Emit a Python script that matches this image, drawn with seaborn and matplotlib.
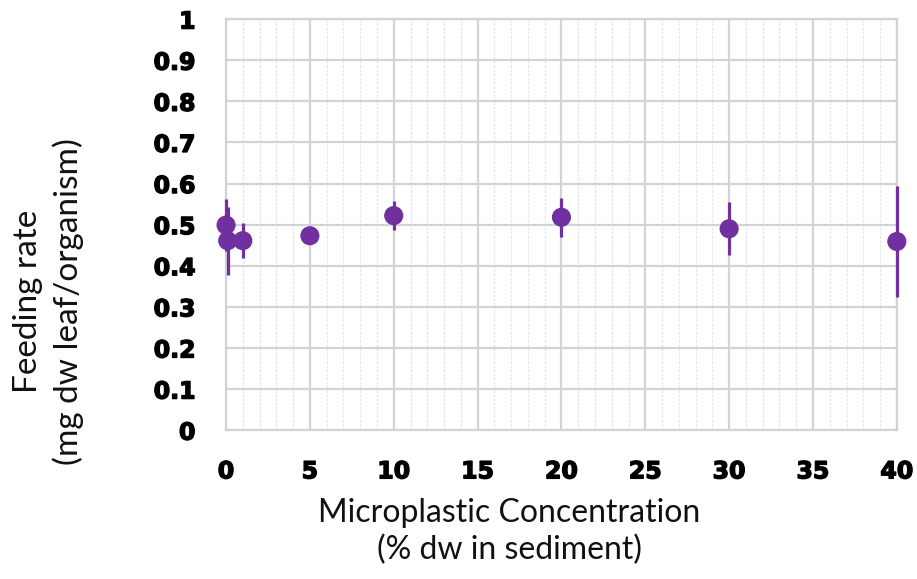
import matplotlib
matplotlib.use("Agg")
import matplotlib.pyplot as plt
import matplotlib.patheffects as pe
import seaborn as sns
import pandas as pd
import numpy as np
from matplotlib.ticker import MultipleLocator, FuncFormatter

concentration = [0, 0.1, 1, 5, 10, 20, 30, 40]
feeding_rate = [0.499, 0.461, 0.461, 0.473, 0.522, 0.518, 0.490, 0.459]
error = [0.064, 0.083, 0.042, 0.008, 0.035, 0.047, 0.064, 0.136]

df = pd.DataFrame({"conc": concentration, "rate": feeding_rate, "err": error})

sns.set_theme(style="white")
plt.rcParams['font.family'] = ['Lato', 'DejaVu Sans']

fig = plt.figure(figsize=(9.17, 5.79), dpi=100)
ax = fig.add_axes([0.2465, 0.257, 0.978 - 0.2465, 0.967 - 0.257])

purple = "#7030A0"
eb = ax.errorbar(df["conc"], df["rate"], yerr=df["err"], fmt="none",
                 ecolor=purple, elinewidth=2.3, capsize=0, zorder=3)
for c in eb.lines[2]:
    c.set_clip_on(False)
sns.scatterplot(data=df, x="conc", y="rate", ax=ax, color=purple, s=190,
                edgecolor="none", zorder=4, legend=False, clip_on=False)

ax.set_xlim(0, 40)
ax.set_ylim(0, 1)
ax.xaxis.set_major_locator(MultipleLocator(5))
ax.xaxis.set_minor_locator(MultipleLocator(1))
ax.yaxis.set_major_locator(MultipleLocator(0.1))

def yfmt(v, pos):
    s = f"{v:.1f}"
    if s == "0.0":
        return "0"
    if s == "1.0":
        return "1"
    return s

ax.yaxis.set_major_formatter(FuncFormatter(yfmt))

ax.grid(which="major", axis="both", color="#d3d3d3", linewidth=1.6)
ax.grid(which="minor", axis="x", color="#e6e6e6", linewidth=1.0, linestyle=(0, (2, 1)))
ax.set_axisbelow(True)
for sp in ax.spines.values():
    sp.set_color("#d3d3d3")
    sp.set_linewidth(1.6)

ax.tick_params(axis="both", which="both", length=0)
ax.tick_params(axis="y", pad=22)
ax.tick_params(axis="x", pad=21)
for lab in ax.get_xticklabels() + ax.get_yticklabels():
    lab.set_fontfamily("DejaVu Sans")
    lab.set_fontweight("bold")
    lab.set_fontsize(17)
    lab.set_color("black")
    lab.set_path_effects([pe.withStroke(linewidth=1.0, foreground="black")])

ax.set_xlabel("Microplastic Concentration\n(% dw in sediment)", fontsize=23,
              color="#111111", linespacing=1.28)
ax.set_ylabel("Feeding rate\n(mg dw leaf/organism)", fontsize=24,
              color="#111111", linespacing=1.35)
ax.xaxis.set_label_coords(0.422, -0.165)
ax.yaxis.set_label_coords(-0.212, 0.314)

fig.savefig("out.png", dpi=100, facecolor="white")
